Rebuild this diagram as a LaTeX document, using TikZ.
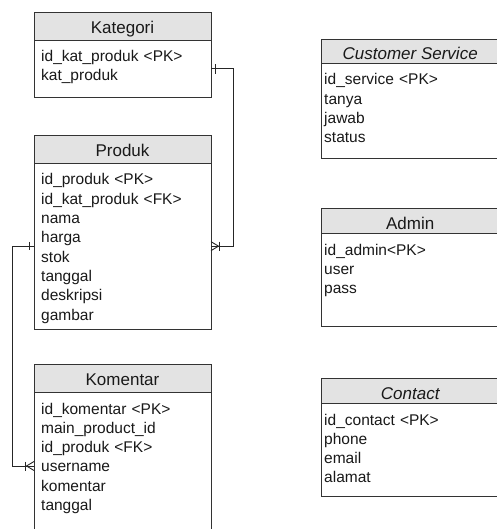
\documentclass[tikz,border=0pt]{standalone}
\usepackage{fontspec}
\setmainfont{Liberation Sans}
\usetikzlibrary{calc}
\tikzset{
  entity/.style={draw=black!80, line width=0.9pt, minimum width=177pt, anchor=north west, inner sep=0pt, outer sep=0pt},
  hdrbox/.style={entity, fill=gray!22},
  bodybox/.style={entity, fill=white},
  title/.style={anchor=base, inner sep=0pt, font=\fontsize{17}{20}\selectfont, text=black!90},
  fields/.style={anchor=base west, inner sep=0pt, text width=170pt, align=left, font=\fontsize{15.5}{19.3}\selectfont, text=black!90},
  link/.style={draw=black!85, line width=0.9pt},
}
\begin{document}
\begin{tikzpicture}[x=1pt, y=-1pt]
\useasboundingbox (0,0) rectangle (496,529);

% ---- Kategori ----
\node[hdrbox, minimum height=27.7pt] (kat) at (34,12.3) {};
\node[title] (katT) at ($(kat.north)+(0,21)$) {Kategori};
\node[bodybox, minimum height=57.7pt] (katB) at (kat.south west) {};
\node[fields] (katF) at ($(katB.north west)+(7,21.7)$) {id\_kat\_produk <PK>\\kat\_produk};

% ---- Produk ----
\node[hdrbox, minimum height=28.3pt] (prod) at (34,135) {};
\node[title] (prodT) at ($(prod.north)+(0,21.5)$) {Produk};
\node[bodybox, minimum height=165.7pt] (prodB) at (prod.south west) {};
\node[fields] (prodF) at ($(prodB.north west)+(7,21.7)$) {id\_produk <PK>\\id\_kat\_produk <FK>\\nama\\harga\\stok\\tanggal\\deskripsi\\gambar};

% ---- Komentar ----
\node[hdrbox, minimum height=28.3pt] (kom) at (34,364) {};
\node[title] (komT) at ($(kom.north)+(0,21.5)$) {Komentar};
\node[bodybox, minimum height=160pt] (komB) at (kom.south west) {};
\node[fields] (komF) at ($(komB.north west)+(7,21.7)$) {id\_komentar <PK>\\main\_product\_id\\id\_produk <FK>\\username\\komentar\\tanggal};

% ---- Customer Service ----
\node[hdrbox, minimum height=24.3pt] (cs) at (321.7,39) {};
\node[title, font=\fontsize{17}{20}\selectfont\itshape] (csT) at ($(cs.north)+(0,21)$) {Customer Service};
\node[bodybox, minimum height=95pt] (csB) at (cs.south west) {};
\node[fields] (csF) at ($(csB.north west)+(2.3,21.7)$) {id\_service <PK>\\tanya\\jawab\\status};

% ---- Admin ----
\node[hdrbox, minimum height=25pt] (adm) at (321.7,208.3) {};
\node[title] (admT) at ($(adm.north)+(0,21)$) {Admin};
\node[bodybox, minimum height=92.7pt] (admB) at (adm.south west) {};
\node[fields] (admF) at ($(admB.north west)+(2.3,21.7)$) {id\_admin<PK>\\user\\pass};

% ---- Contact ----
\node[hdrbox, minimum height=25pt] (con) at (321.7,378.3) {};
\node[title, font=\fontsize{17}{20}\selectfont\itshape] (conT) at ($(con.north)+(0,21)$) {Contact};
\node[bodybox, minimum height=92.7pt] (conB) at (con.south west) {};
\node[fields] (conF) at ($(conB.north west)+(2.3,21.7)$) {id\_contact <PK>\\phone\\email\\alamat};

% ---- Kategori (one) to Produk (many) ----
\draw[link] (katB.east) -- ++(22.3,0) |- (prodB.east);
\draw[link] ($(katB.east)+(4.7,-4.7)$) -- ++(0,9.4);
\draw[link] ($(prodB.east)+(0,-4.5)$) -- ($(prodB.east)+(7.5,0)$) -- ($(prodB.east)+(0,4.5)$);
\draw[link] ($(prodB.east)+(8.5,-4.5)$) -- ++(0,9);

% ---- Produk (one) to Komentar (many) ----
\coordinate (kin) at ($(komB.north west)+(0,73.7)$);
\draw[link] (prodB.west) -- ++(-21.7,0) |- (kin);
\draw[link] ($(prodB.west)+(-4.3,-4.2)$) -- ++(0,8.4);
\draw[link] ($(kin)+(0,-4.5)$) -- ($(kin)+(-7.5,0)$) -- ($(kin)+(0,4.5)$);
\draw[link] ($(kin)+(-8.5,-4.5)$) -- ++(0,9);
\end{tikzpicture}
\end{document}
